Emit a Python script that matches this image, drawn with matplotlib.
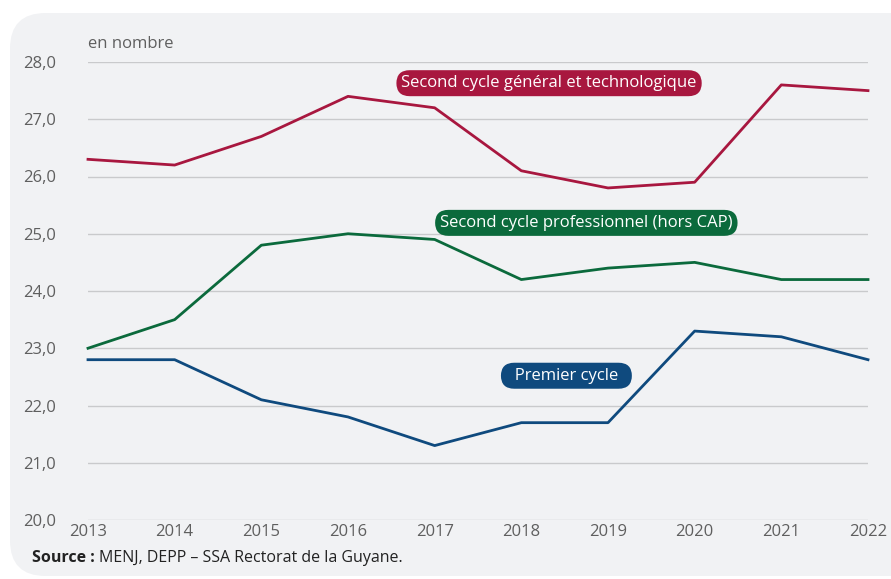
import matplotlib.pyplot as plt
from matplotlib.patches import FancyBboxPatch

plt.rcParams['font.family'] = ['Open Sans', 'DejaVu Sans']

years = [2013, 2014, 2015, 2016, 2017, 2018, 2019, 2020, 2021, 2022]
general_techno = [26.3, 26.2, 26.7, 27.4, 27.2, 26.1, 25.8, 25.9, 27.6, 27.5]
professionnel = [23.0, 23.5, 24.8, 25.0, 24.9, 24.2, 24.4, 24.5, 24.2, 24.2]
premier_cycle = [22.8, 22.8, 22.1, 21.8, 21.3, 21.7, 21.7, 23.3, 23.2, 22.8]
y_ticks = [20, 21, 22, 23, 24, 25, 26, 27, 28]

red = '#a8173f'
green = '#0b6a3c'
blue = '#0f4a7e'
grey_text = '#5f5f5f'

W, H = 891, 579
fig = plt.figure(figsize=(W / 100, H / 100), dpi=100)
fig.patch.set_facecolor('white')

# rounded light panel behind everything
panel = FancyBboxPatch((10 / W, 3 / H), (W + 30) / W, (H - 13) / H - 3 / H,
                       boxstyle='round,pad=0,rounding_size=0.04',
                       transform=fig.transFigure, facecolor='#f1f2f4',
                       edgecolor='none', zorder=-5, mutation_aspect=W / H)
fig.patches.append(panel)

ax = fig.add_axes([88 / W, 1 - 520 / H, (868 - 88) / W, (520 - 62) / H])
ax.set_zorder(2)
ax.set_facecolor('none')
ax.set_xlim(2013, 2022)
ax.set_ylim(20, 28)

for v in y_ticks:
    ax.axhline(v, color='#c9cacc', lw=1, zorder=1)

ax.plot(years, general_techno, color=red, lw=2, zorder=3, clip_on=False)
ax.plot(years, professionnel, color=green, lw=2, zorder=3, clip_on=False)
ax.plot(years, premier_cycle, color=blue, lw=2, zorder=3, clip_on=False)

for s in ax.spines.values():
    s.set_visible(False)
ax.set_yticks(y_ticks)
ax.set_yticklabels([f'{v},0' for v in y_ticks])
ax.set_xticks(years)
ax.set_xticklabels([str(y) for y in years])
ax.tick_params(length=0, colors=grey_text, labelsize=12)
ax.tick_params(axis='y', pad=23)
ax.tick_params(axis='x', pad=3)

def tag(x, y, text, color):
    ax.text(x, y, text, color='white', fontsize=12, ha='center', va='center', zorder=5,
            bbox=dict(boxstyle='round,pad=0.3,rounding_size=0.8', fc=color, ec='none'))

tag(2018.32, 27.63, 'Second cycle général et technologique', red)
tag(2018.75, 25.19, 'Second cycle professionnel (hors CAP)', green)
tag(2018.52, 22.52, '  Premier cycle  ', blue)

fig.text(88 / W, 1 - 44 / H, 'en nombre', color=grey_text, fontsize=12, ha='left', va='center')
src = fig.text(32 / W, 1 - 558 / H, 'Source :', fontsize=11.5, fontweight='bold',
               color='#222222', ha='left', va='center')
fig.canvas.draw()
bb = src.get_window_extent()
fig.text((bb.x1 + 4) / W, 1 - 558 / H, 'MENJ, DEPP – SSA Rectorat de la Guyane.',
         color='#222222', fontsize=11.5, ha='left', va='center')

fig.savefig('out.png', dpi=100)
